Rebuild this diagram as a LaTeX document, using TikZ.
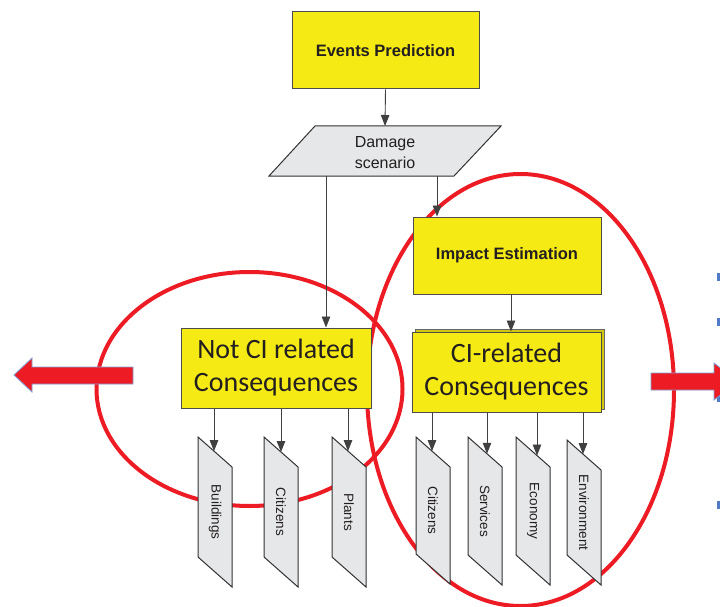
\documentclass[tikz,border=0pt]{standalone}
\usepackage{fontspec}
\setmainfont{Liberation Sans}
\newfontfamily\calib{Carlito}
\usetikzlibrary{arrows.meta}
\definecolor{ciyellow}{HTML}{F5EA14}
\definecolor{cired}{HTML}{ED1C24}
\definecolor{pgray}{HTML}{E6E7E8}
\definecolor{bblue}{HTML}{7F9FD6}
\definecolor{mblue}{HTML}{4F7BC8}
\definecolor{txt}{HTML}{231F20}
\newcommand\subbox[6]{% name, left x, top y, height, arrow x, label
  \draw[para] (#2,#3) -- ++(34,30) -- ++(0,#4) -- ++(-34,-30) -- cycle;
  \node[sublabel, rotate=-90] (#1) at ({#2+17},{#3+(#4+30)/2}) {#6};
  \coordinate (#1t) at (#5,{#3+(#5-#2)*30/34});
}
\begin{document}
\begin{tikzpicture}[x=1pt,y=-1pt,
  ybox/.style={draw=black!70, line width=1pt, fill=ciyellow, text=txt, inner sep=0pt},
  para/.style={draw=black!80, line width=1pt, fill=pgray},
  sublabel/.style={font=\fontsize{13.5}{15}\selectfont, text=txt, inner sep=0pt},
  conn/.style={draw=black!75, line width=0.9pt, -{Triangle[length=11pt,width=8.5pt]}},
  ring/.style={draw=cired, line width=4pt},
  bigarrow/.style={fill=cired, draw=bblue, line width=0.8pt, line join=miter},
  titlefont/.style={font=\bfseries\fontsize{16.5}{19}\selectfont},
  consfont/.style={font=\calib\fontsize{28}{34}\selectfont, align=center},
]
\useasboundingbox (0,0) rectangle (720,607);
\fill[white] (0,0) rectangle (720,607);

% red rings
\draw[ring] (249.5,389) ellipse [x radius=153, y radius=117];
\draw[ring] (520.5,390) ellipse [x radius=153.5, y radius=216];

% top box
\node[ybox, titlefont, minimum width=187pt, minimum height=77pt] (ep) at (385.5,50.5) {Events Prediction};

% damage scenario
\draw[para] (315,126) -- (501,126) -- (454,176) -- (269,176) -- cycle;
\node[font=\fontsize{16}{21}\selectfont, align=center, text=txt] (ds) at (385,153) {Damage\\scenario};
\coordinate (dsT) at (385,126);
\coordinate (dsL) at (326,176);
\coordinate (dsR) at (437,176);

% impact estimation
\node[ybox, titlefont, minimum width=188pt, minimum height=77pt] (ie) at (507,255.5) {Impact Estimation};

% consequences boxes
\draw[draw=black!60, line width=1pt, fill=ciyellow!85!black] (415,329) rectangle (604,409);
\node[ybox, consfont, minimum width=189pt, minimum height=80pt] (ci) at (506.5,372) {CI-related\\[-1pt]Consequences};
\node[ybox, consfont, minimum width=190pt, minimum height=80pt] (nci) at (276,368) {Not CI related\\[-1pt]Consequences};

% sub boxes
\subbox{b1}{198}{437}{120}{214}{Buildings}
\subbox{b2}{264}{437}{120}{281}{Citizens}
\subbox{b3}{332}{437}{120}{348}{Plants}
\subbox{c1}{416}{437}{117}{432}{Citizens}
\subbox{c2}{468}{437}{118}{487}{Services}
\subbox{c3}{516}{437}{118}{537}{Economy}
\subbox{c4}{567}{440}{115}{583}{Environment}

% connectors
\draw[conn] (ep.south) -- (dsT);
\draw[conn] (dsL) -- (dsL |- nci.north);
\draw[conn] (dsR) -- (dsR |- ie.north);
\coordinate (ieb) at (511,294);
\draw[conn] (ieb) -- (ieb |- ci.north);
\foreach \b in {b1,b2,b3}{\draw[conn] (\b t |- nci.south) -- (\b t);}
\foreach \b in {c1,c2,c3,c4}{\draw[conn] (\b t |- ci.south) -- (\b t);}

% big arrows and edge marks
\draw[bigarrow] (133,367) -- (32,367) -- (32,358) -- (14,375) -- (32,392) -- (32,384) -- (133,384) -- cycle;
\begin{scope}
\clip (0,0) rectangle (720,607);
\foreach \yy in {273,318,394,501}{\fill[mblue] (717,\yy) rectangle (721,\yy+8);}
\draw[bigarrow] (651,373) -- (714,373) -- (714,363) -- (738,381.5) -- (714,400) -- (714,390) -- (651,390) -- cycle;
\end{scope}
\end{tikzpicture}
\end{document}
